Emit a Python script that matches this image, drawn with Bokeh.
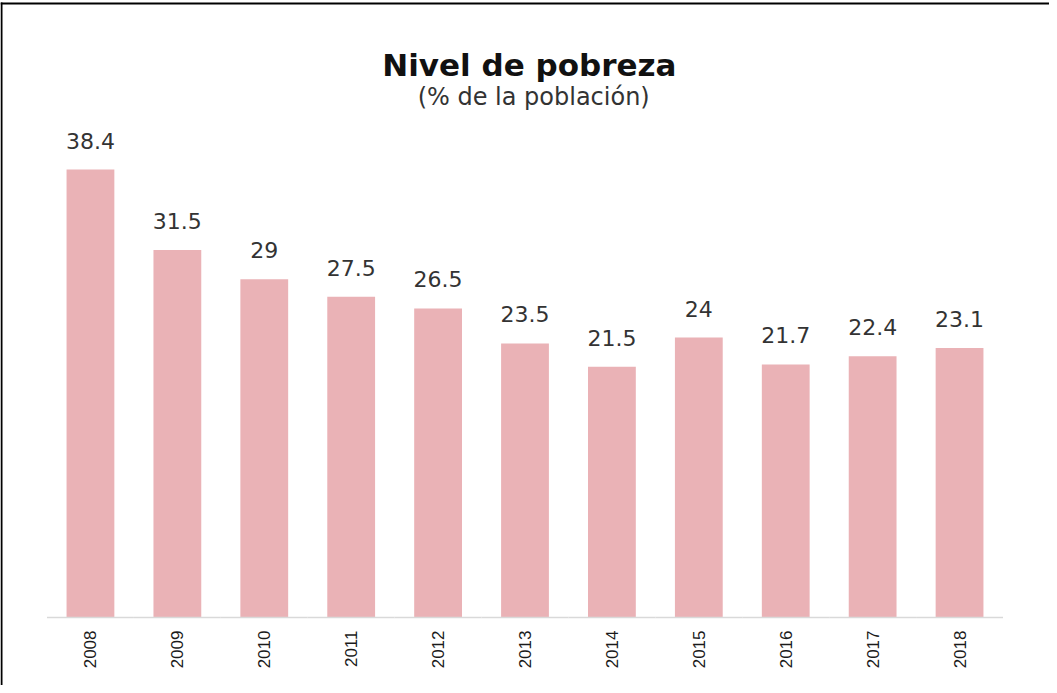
from bokeh.plotting import figure
from bokeh.models import FactorRange, Range1d, LabelSet, Label, ColumnDataSource, BoxAnnotation
from bokeh.transform import dodge
from bokeh.core.properties import value
from bokeh.embed import file_html
from bokeh.resources import INLINE
from math import pi

years = ["2008", "2009", "2010", "2011", "2012", "2013", "2014", "2015", "2016", "2017", "2018"]
values = [38.4, 31.5, 29, 27.5, 26.5, 23.5, 21.5, 24, 21.7, 22.4, 23.1]
labels = ["38.4", "31.5", "29", "27.5", "26.5", "23.5", "21.5", "24", "21.7", "22.4", "23.1"]

title_text = "Nivel de pobreza"
subtitle_text = "(% de la población)"

src = ColumnDataSource(dict(x=years, top=values, label=labels, zero=[0] * len(years)))

p = figure(
    width=1049, height=685,
    x_range=FactorRange(factors=years, range_padding=0.535, range_padding_units="absolute"),
    y_range=Range1d(-5.83, 52.9),
    output_backend="svg", toolbar_location=None,
    x_axis_location=None, y_axis_location=None,
    min_border_left=0, min_border_right=0, min_border_top=0, min_border_bottom=0,
)
p.outline_line_color = None
p.background_fill_color = "white"
p.border_fill_color = "white"
p.xgrid.visible = False
p.ygrid.visible = False

# bars
p.vbar(x="x", top="top", width=0.55, source=src, fill_color="#EAB2B6", line_color=None)

# baseline (category axis line)
p.segment(x0=dodge("x", -0.5, range=p.x_range), x1=dodge("x", 0.5, range=p.x_range),
          y0="zero", y1="zero", source=src, line_color="#D9D9D9", line_width=1.5)

# value labels
p.add_layout(LabelSet(x="x", y="top", text="label", source=src, text_align="center",
                      text_baseline="alphabetic", y_offset=21,
                      text_font=value("DejaVu Sans"), text_font_size=value("22px"),
                      text_color="#333333"))

# category (year) labels, rotated
p.add_layout(LabelSet(x="x", y="zero", text="x", source=src, angle=pi / 2,
                      text_align="right", text_baseline="middle", y_offset=-13,
                      text_font=value("Liberation Sans"), text_font_size=value("17px"),
                      text_color="#1A1A1A"))

# titles
p.add_layout(Label(x=5.55, y=47.35, text=title_text, text_align="center", text_baseline="alphabetic",
                   text_font="DejaVu Sans", text_font_style="bold", text_font_size="31px",
                   text_color="#111111"))
p.add_layout(Label(x=5.6, y=44.6, text=subtitle_text, text_align="center", text_baseline="alphabetic",
                   text_font="DejaVu Sans", text_font_size="24px", text_color="#333333"))

# page border (left and top lines)
p.add_layout(BoxAnnotation(left=0, right=2, top=2, bottom=685,
                           left_units="canvas", right_units="canvas", top_units="canvas", bottom_units="canvas",
                           fill_color="black", fill_alpha=1, line_color=None, level="overlay"))
p.add_layout(BoxAnnotation(left=0, right=1049, top=2, bottom=4,
                           left_units="canvas", right_units="canvas", top_units="canvas", bottom_units="canvas",
                           fill_color="black", fill_alpha=1, line_color=None, level="overlay"))

open("out.html", "w").write(file_html(p, INLINE))
